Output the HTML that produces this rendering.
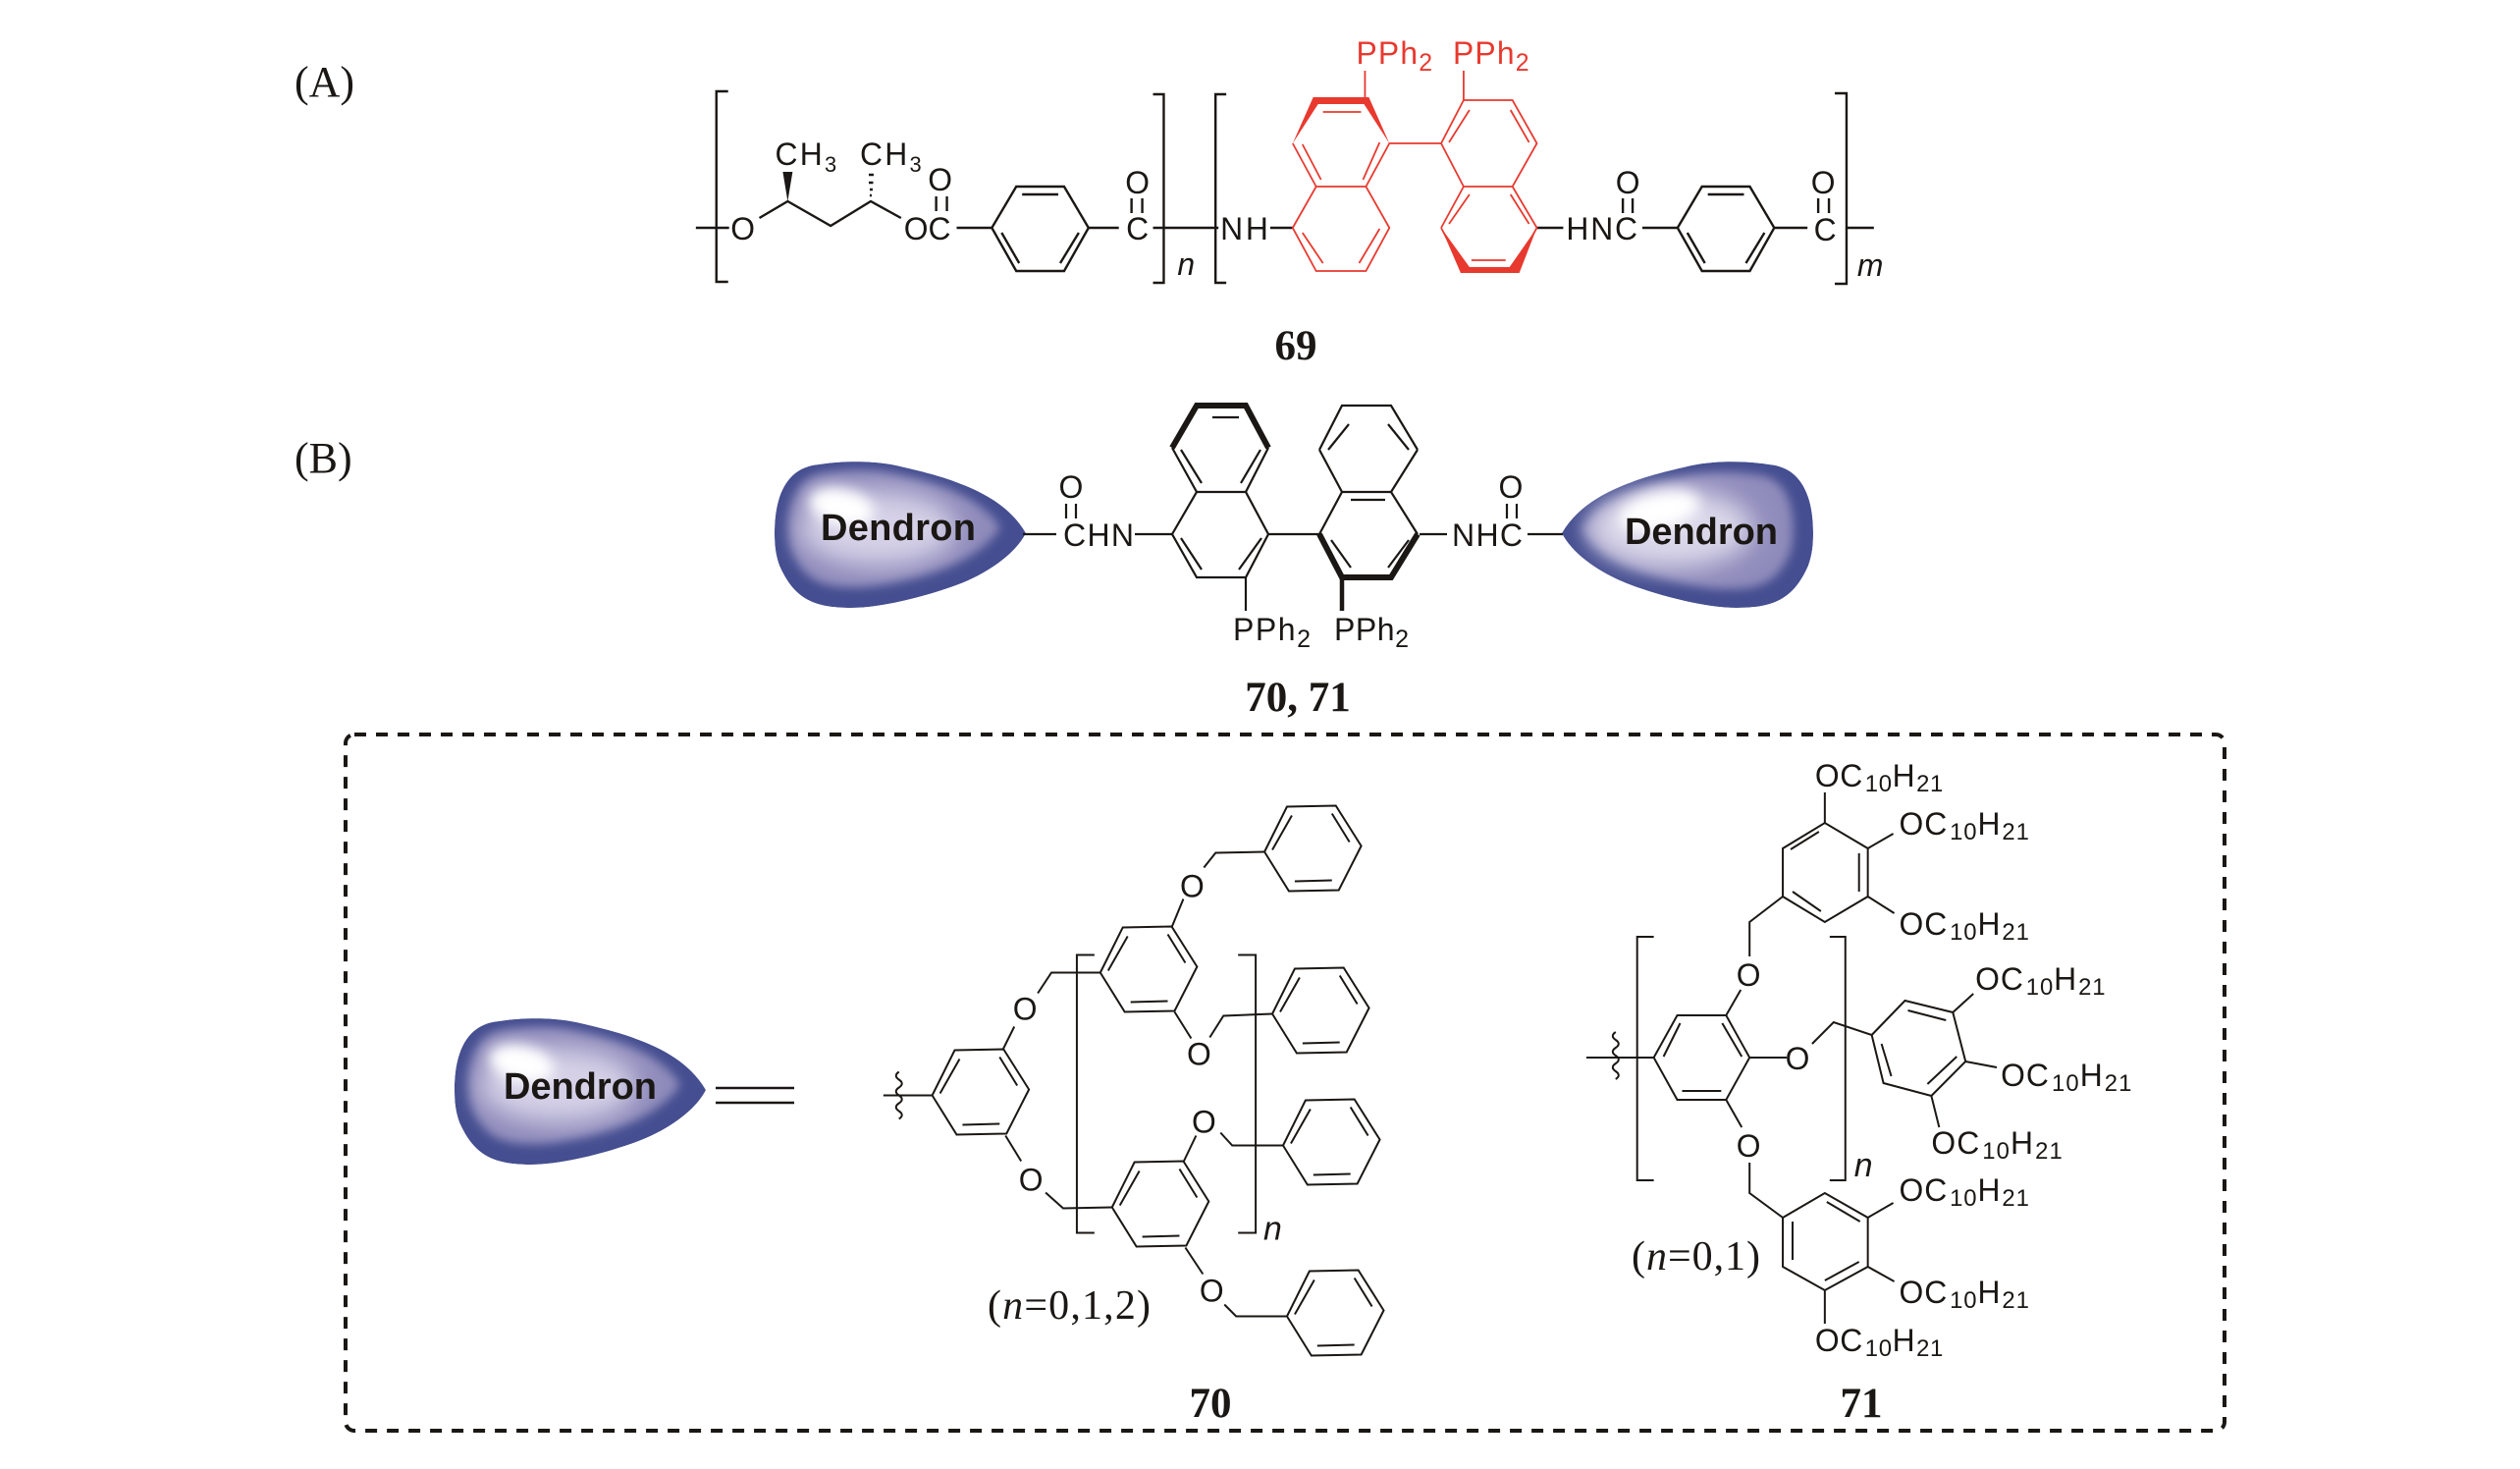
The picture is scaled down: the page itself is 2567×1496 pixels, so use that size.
<!DOCTYPE html>
<html><head><meta charset="utf-8"><style>
html,body{margin:0;padding:0;background:#fff}
svg{display:block}
.s{font-family:"Liberation Sans",Arial,sans-serif;font-size:32px;fill:#1a1714}
.r{font-family:"Liberation Sans",Arial,sans-serif;font-size:32px;fill:#e8392f}
.t{font-family:"Liberation Serif","Times New Roman",serif;fill:#1a1714}
.b{font-family:"Liberation Serif","Times New Roman",serif;font-weight:bold;font-size:43px;fill:#1a1714}
.d{font-family:"Liberation Sans",Arial,sans-serif;font-weight:bold;font-size:38px;fill:#1a1714}
.c{text-anchor:middle}
.i{font-style:italic}
</style></head><body>
<svg xmlns="http://www.w3.org/2000/svg" width="2567" height="1496" viewBox="0 0 2567 1496">
<defs>
<filter id="b5" x="-20%" y="-20%" width="140%" height="140%"><feGaussianBlur stdDeviation="6"/></filter>
<filter id="b12" x="-40%" y="-40%" width="180%" height="180%"><feGaussianBlur stdDeviation="13"/></filter>
<filter id="b7" x="-60%" y="-80%" width="220%" height="260%"><feGaussianBlur stdDeviation="7"/></filter>
<path id="bp" d="M0,73 C0,35 12,6 45,3 C70,-1 100,-1 124,4 C150,10 170,15 185,21 C210,30 240,45 256,73 C245,95 215,115 185,126 C155,137 110,149 78,149 C40,149 20,140 5,106 C1,95 0,85 0,73 Z"/>
<clipPath id="bc"><use href="#bp"/></clipPath>
<clipPath id="bcr"><use href="#bp" transform="translate(1847,470) scale(-1,1)"/></clipPath>
<g id="blob" clip-path="url(#bc)">
<use href="#bp" fill="#454e90"/>
<use href="#bp" fill="#8f8bbb" transform="translate(122 68) scale(.84 .8) translate(-128 -74)" filter="url(#b5)"/>
<ellipse cx="105" cy="68" rx="80" ry="38" fill="#d6d1e7" filter="url(#b12)"/>
<ellipse cx="68" cy="46" rx="34" ry="19" transform="rotate(14 68 46)" fill="#fff" filter="url(#b7)"/>
</g>
<g id="hexB" fill="none" stroke="#1a1714" stroke-width="2">
<path d="M0,0 L23,-46 L73,-47 L99,-6 L76,39 L25,40 Z"/>
<path d="M8,-2 L28,-37 M69,-39 L87,-10 M69,29 L31,30"/>
</g>
<g id="hexH" fill="none" stroke="#1a1714" stroke-width="2.4">
<path d="M0,0 L25,-42 L74,-42 L99,0 L74,44 L25,44 Z"/>
<path d="M10,5 L28,36 M89,5 L70,36 M31,-34 L68,-34"/>
</g>
</defs>
<rect width="2567" height="1496" fill="#fff"/>

<!-- labels A B -->
<text class="t" x="300" y="98" font-size="44">(A)</text>
<text class="t" x="300" y="481" font-size="44">(B)</text>

<!-- ===== 69 ===== -->
<g transform="translate(680 0) scale(.995 1) translate(-680 0)">
<g fill="none" stroke="#1a1714" stroke-width="2.4">
<path d="M742,93 H730 V287 H742"/>
<path d="M1177,96 H1188 V288 H1177"/>
<path d="M1252,96 H1241 V288 H1252"/>
<path d="M1875,95 H1887 V289 H1875"/>
<path d="M709,232 H743 M774,222 L803,205 L847,230 L888,205 L919,222"/>
<path d="M955,200 V215 M966,200 V215"/>
<path d="M976,232 H1012 M1111,232 H1142 M1177,232 H1244 M1297,232 H1320"/>
<path d="M1155,202 V217 M1166,202 V217"/>
<path d="M1658,202 V217 M1668,202 V217"/>
<path d="M1858,202 V217 M1869,202 V217"/>
<path d="M1570,232 H1597 M1678,232 H1714 M1813,232 H1847 M1886,232 H1915"/>
</g>
<polygon points="803,205 798,175 808,175" fill="#1a1714"/>
<path d="M886,178 h5 M886,186 h4.5 M887,193 h3 M887,199 h2" stroke="#1a1714" stroke-width="2.4" fill="none"/>
<use href="#hexH" x="1012" y="232"/>
<use href="#hexH" x="1714" y="232"/>
<text class="s" x="757" y="244" text-anchor="middle">O</text>
<text class="s" x="790" y="168" textLength="63">CH<tspan font-size="22" dy="7">3</tspan></text>
<text class="s" x="877" y="168" textLength="63">CH<tspan font-size="22" dy="7">3</tspan></text>
<text class="s" x="922" y="244" textLength="48">OC</text>
<text class="s c" x="959" y="194">O</text>
<text class="s c" x="1161" y="244">C</text>
<text class="s c" x="1161" y="197">O</text>
<text class="s" x="1246" y="244" textLength="49">NH</text>
<text class="s" x="1600" y="244" textLength="73">HNC</text>
<text class="s c" x="1663" y="197">O</text>
<text class="s c" x="1865" y="245">C</text>
<text class="s c" x="1863" y="197">O</text>
<text class="s i" x="1202" y="280">n</text>
<text class="s i" x="1898" y="281">m</text>
<g fill="none" stroke="#e8392f" stroke-width="1.8">
<path d="M1320,232 L1344,190 H1395 L1419,232 L1395,276 H1344 Z"/>
<path d="M1320,146 L1344,190 M1395,190 L1419,146 L1472,146 M1394,72 V102"/>
<path d="M1472,146 L1495,102 H1545 L1570,146 L1545,190 H1495 Z"/>
<path d="M1472,232 L1495,190 M1545,190 L1570,232 L1545,276 H1495 L1472,232"/>
<path d="M1495,72 V102"/>
<path d="M1330,237 L1351,268 M1409,233 L1388,268 M1330,147 L1349,183 M1409,145 L1392,183 M1351,114 H1390"/>
<path d="M1501,112 L1480,145 M1543,112 L1562,145 M1501,198 L1480,228 M1543,198 L1562,228 M1503,265 H1538"/>
</g>
<polygon points="1320,146 1341,99 1398,99 1419,146 1393,106 1346,106" fill="#e8392f"/>
<polygon points="1472,232 1492,278 1552,278 1570,232 1542,272 1501,272" fill="#e8392f"/>
<text class="r" x="1385" y="65" textLength="78">PPh<tspan font-size="25" dy="7">2</tspan></text>
<text class="r" x="1484" y="65" textLength="78">PPh<tspan font-size="25" dy="7">2</tspan></text>
</g>
<text class="b c" x="1320" y="366">69</text>

<!-- ===== 70,71 top ===== -->
<use href="#blob" x="789" y="470"/>
<g clip-path="url(#bcr)">
<use href="#bp" fill="#454e90" transform="translate(1847,470) scale(-1,1)"/>
<use href="#bp" fill="#8f8bbb" transform="translate(1847,470) scale(-1,1) translate(128 70) scale(.84 .8) translate(-128 -74)" filter="url(#b5)"/>
<ellipse cx="1702" cy="538" rx="84" ry="40" fill="#dcd8ea" filter="url(#b12)"/>
<ellipse cx="1690" cy="520" rx="42" ry="19" transform="rotate(-14 1690 520)" fill="#fff" filter="url(#b7)"/>
</g>
<text class="d" x="836" y="550" textLength="158">Dendron</text>
<text class="d" x="1655" y="554" textLength="156">Dendron</text>
<g fill="none" stroke="#1a1714" stroke-width="2.2">
<path d="M1042,544 H1076 M1086,513 V528 M1096,513 V528 M1156,544 H1194"/>
<path d="M1194,544 L1219,501 H1269 L1292,544 L1269,588 H1219 Z"/>
<path d="M1194,456 L1219,501 M1269,501 L1292,456"/>
<path d="M1292,544 H1344 M1344,544 L1367,501 H1417 L1444,544 M1344,458 L1367,501 M1417,501 L1444,458"/>
<path d="M1344,458 L1367,413 H1417 L1444,458"/>
<path d="M1446,544 H1474 M1535,513 V528 M1545,513 V528 M1556,544 H1592 M1269,588 V622"/>
<path d="M1203,458 L1224,492 M1284,458 L1264,492 M1235,425 H1262 M1203,548 L1224,580 M1285,548 L1262,580"/>
<path d="M1374,432 L1353,458 M1414,432 L1435,458 M1376,509 H1411 M1356,550 L1376,578 M1435,550 L1414,578"/>
</g>
<path d="M1194,456 L1219,413 H1269 L1292,456" fill="none" stroke="#1a1714" stroke-width="6"/>
<path d="M1344,544 L1367,588 H1417 L1444,544" fill="none" stroke="#1a1714" stroke-width="6"/>
<path d="M1367,588 V622" stroke="#1a1714" stroke-width="4.5" fill="none"/>
<text class="s c" x="1091" y="507">O</text>
<text class="s" x="1083" y="556" textLength="72">CHN</text>
<text class="s" x="1479" y="556" textLength="72">NHC</text>
<text class="s c" x="1539" y="507">O</text>
<text class="s" x="1256" y="652" textLength="79">PPh<tspan font-size="25" dy="7">2</tspan></text>
<text class="s" x="1359" y="652" textLength="76">PPh<tspan font-size="25" dy="7">2</tspan></text>
<text class="b c" x="1322" y="724">70, 71</text>

<!-- dashed box -->
<rect x="352" y="748" width="1914" height="709" rx="9" fill="none" stroke="#1a1714" stroke-width="4" stroke-dasharray="12 10"/>

<!-- blob bottom -->
<use href="#blob" x="463" y="1037"/>
<text class="d" x="513" y="1119" textLength="156">Dendron</text>
<path d="M729,1108 H809 M729,1123 H809" stroke="#1a1714" stroke-width="2.4" fill="none"/>

<!-- ===== 70 ===== -->
<g transform="translate(860 -1.5) scale(.9955 1) translate(-860 0)">
<use href="#hexB" x="950" y="1117"/>
<use href="#hexB" x="1122" y="992"/>
<use href="#hexB" x="1134" y="1231"/>
<use href="#hexB" x="1290" y="869"/>
<use href="#hexB" x="1298" y="1034"/>
<use href="#hexB" x="1309" y="1168"/>
<use href="#hexB" x="1313" y="1342"/>
<g fill="none" stroke="#1a1714" stroke-width="2">
<path d="M900,1117 H950"/>
<path d="M916,1093 q-6,4 0,8 q6,4 0,8 q-6,4 0,8 q6,4 0,8 q-6,4 0,8 q6,4 0,8"/>
<path d="M1022,1071 L1034,1047 M1058,1013 L1072,992 H1122"/>
<path d="M1025,1158 L1041,1184 M1066,1216 L1084,1232 L1134,1231"/>
<path d="M1195,946 L1207,917 M1228,885 L1240,870 L1290,869"/>
<path d="M1198,1032 L1215,1059 M1234,1058 L1248,1036 L1298,1034"/>
<path d="M1207,1185 L1220,1158 M1245,1155 L1257,1168 L1309,1168"/>
<path d="M1209,1272 L1227,1299 M1249,1330 L1261,1342 L1313,1342"/>
<path d="M1116,974 H1098 V1257 H1116 M1263,974 H1281 V1257 H1263"/>
</g>
<text class="s c" x="1045" y="1040">O</text>
<text class="s c" x="1051" y="1214">O</text>
<text class="s c" x="1216" y="915">O</text>
<text class="s c" x="1223" y="1086">O</text>
<text class="s c" x="1228" y="1155">O</text>
<text class="s c" x="1236" y="1327">O</text>
<text class="s i" x="1289" y="1264" style="font-size:34px">n</text>
</g>
<text class="t" x="1006" y="1343" font-size="42" textLength="166">(<tspan font-style="italic">n</tspan>=0,1,2)</text>
<text class="b c" x="1233" y="1443">70</text>

<!-- ===== 71 ===== -->
<g transform="translate(1600 0) scale(.9956 1) translate(-1600 0)">
<g fill="none" stroke="#1a1714" stroke-width="2">
<path d="M1685,1077 L1709,1034 H1759 L1783,1077 L1759,1120 H1709 Z"/>
<path d="M1695,1076 L1712,1042 M1755,1042 L1775,1076 M1714,1111 H1754"/>
<path d="M1616,1077 H1685"/>
<path d="M1646,1051 q-6,4 0,8 q6,4 0,8 q-6,4 0,8 q6,4 0,8 q-6,4 0,8 q6,4 0,8"/>
<path d="M1685,954 H1668 V1202 H1685 M1865,954 H1881 V1202 H1865"/>
<path d="M1759,1034 L1774,1008 M1783,974 V939 L1817,913"/>
<path d="M1817,913 V864 L1860,838 L1904,864 V913 L1860,939 Z"/>
<path d="M1825,865 L1854,847 M1895,869 V908 M1827,908 L1856,928"/>
<path d="M1860,838 V807 M1904,864 L1930,849 M1904,913 L1931,930"/>
<path d="M1783,1077 H1821 M1847,1063 L1869,1041 L1908,1054"/>
<path d="M1908,1054 L1942,1019 L1991,1031 L2004,1081 L1969,1116 L1920,1103 Z"/>
<path d="M1918,1063 L1928,1096 M1945,1029 L1984,1039 M1965,1104 L1995,1076"/>
<path d="M1991,1031 L2012,1012 M2004,1081 L2036,1087 M1969,1116 L1977,1148"/>
<path d="M1759,1120 L1775,1148 M1783,1184 V1215 L1817,1240"/>
<path d="M1817,1240 L1860,1215 L1904,1240 V1290 L1860,1314 L1817,1290 Z"/>
<path d="M1827,1244 V1283 M1862,1224 L1896,1244 M1860,1304 L1895,1285"/>
<path d="M1904,1240 L1930,1225 M1904,1290 L1931,1305 M1860,1314 V1348"/>
</g>
<text class="s c" x="1782" y="1004">O</text>
<text class="s c" x="1832" y="1089">O</text>
<text class="s c" x="1782" y="1178">O</text>
<text class="s i" x="1890" y="1198" style="font-size:34px">n</text>
<text class="s" x="1850" y="801" textLength="131">OC<tspan font-size="24" dy="5" dx="2">10</tspan><tspan dy="-5">H</tspan><tspan font-size="24" dy="5" dx="1">21</tspan></text>
<text class="s" x="1936" y="850" textLength="133">OC<tspan font-size="24" dy="5" dx="2">10</tspan><tspan dy="-5">H</tspan><tspan font-size="24" dy="5" dx="1">21</tspan></text>
<text class="s" x="1936" y="952" textLength="133">OC<tspan font-size="24" dy="5" dx="2">10</tspan><tspan dy="-5">H</tspan><tspan font-size="24" dy="5" dx="1">21</tspan></text>
<text class="s" x="2014" y="1008" textLength="133">OC<tspan font-size="24" dy="5" dx="2">10</tspan><tspan dy="-5">H</tspan><tspan font-size="24" dy="5" dx="1">21</tspan></text>
<text class="s" x="2040" y="1106" textLength="134">OC<tspan font-size="24" dy="5" dx="2">10</tspan><tspan dy="-5">H</tspan><tspan font-size="24" dy="5" dx="1">21</tspan></text>
<text class="s" x="1969" y="1175" textLength="134">OC<tspan font-size="24" dy="5" dx="2">10</tspan><tspan dy="-5">H</tspan><tspan font-size="24" dy="5" dx="1">21</tspan></text>
<text class="s" x="1936" y="1223" textLength="133">OC<tspan font-size="24" dy="5" dx="2">10</tspan><tspan dy="-5">H</tspan><tspan font-size="24" dy="5" dx="1">21</tspan></text>
<text class="s" x="1936" y="1327" textLength="133">OC<tspan font-size="24" dy="5" dx="2">10</tspan><tspan dy="-5">H</tspan><tspan font-size="24" dy="5" dx="1">21</tspan></text>
<text class="s" x="1850" y="1376" textLength="131">OC<tspan font-size="24" dy="5" dx="2">10</tspan><tspan dy="-5">H</tspan><tspan font-size="24" dy="5" dx="1">21</tspan></text>
</g>
<text class="t" x="1662" y="1293" font-size="42" textLength="131">(<tspan font-style="italic">n</tspan>=0,1)</text>
<text class="b c" x="1896" y="1443">71</text>
</svg>
</body></html>
